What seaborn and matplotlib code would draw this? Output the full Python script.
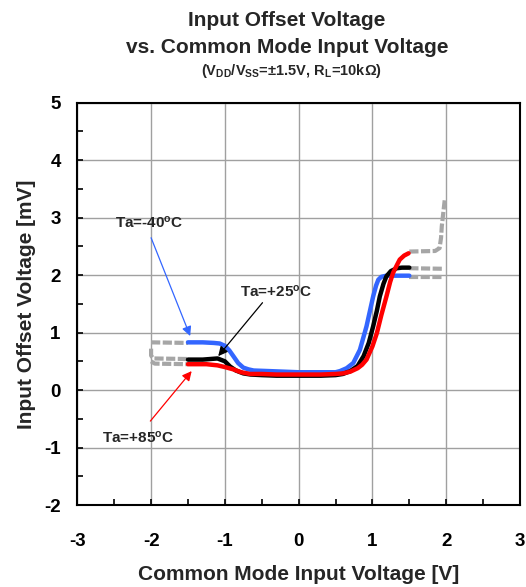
import numpy as np
import pandas as pd
import matplotlib
matplotlib.use("Agg")
import matplotlib.pyplot as plt
import seaborn as sns

# ---------------- data ----------------
temps = ["Ta=-40°C", "Ta=+25°C", "Ta=+85°C"]

x_m40 = [-1.5, -1.3, -1.15, -1.07, -1.0, -0.94, -0.885, -0.82, -0.75, -0.68, -0.61, -0.4, -0.2, 0.0, 0.2, 0.4,
         0.5, 0.56, 0.65, 0.74, 0.83, 0.92, 1.01, 1.05, 1.08, 1.12, 1.19, 1.3, 1.5]
y_m40 = [0.83, 0.83, 0.82, 0.81, 0.77, 0.69, 0.59, 0.47, 0.39, 0.36, 0.34, 0.33, 0.32, 0.31, 0.31, 0.31,
         0.31, 0.33, 0.38, 0.47, 0.70, 1.11, 1.63, 1.82, 1.92, 1.97, 1.99, 1.99, 1.99]

x_p25 = [-1.5, -1.3, -1.1, -1.0, -0.93, -0.85, -0.75, -0.65, -0.5, -0.3, 0.0, 0.3, 0.5, 0.6, 0.7, 0.8,
         0.88, 0.95, 1.01, 1.06, 1.10, 1.15, 1.19, 1.25, 1.33, 1.4, 1.5]
y_p25 = [0.53, 0.53, 0.55, 0.50, 0.41, 0.34, 0.29, 0.27, 0.26, 0.25, 0.25, 0.25, 0.26, 0.28, 0.33, 0.42,
         0.59, 0.82, 1.11, 1.38, 1.63, 1.85, 1.98, 2.07, 2.12, 2.13, 2.13]

x_p85 = [-1.5, -1.25, -1.1, -1.0, -0.885, -0.78, -0.66, -0.5, -0.3, 0.0, 0.3, 0.5, 0.6, 0.7, 0.8, 0.86,
         0.92, 1.0, 1.06, 1.12, 1.19, 1.24, 1.28, 1.33, 1.37, 1.43, 1.49]
y_p85 = [0.45, 0.45, 0.43, 0.40, 0.36, 0.31, 0.28, 0.28, 0.27, 0.27, 0.27, 0.28, 0.29, 0.32, 0.38, 0.44,
         0.53, 0.76, 0.99, 1.30, 1.63, 1.88, 2.04, 2.17, 2.27, 2.34, 2.38]

# grey (dashed) extensions outside the guaranteed range
gx_m40_l = [-2.0, -1.5]
gy_m40_l = [0.83, 0.82]
gx_p25_l = [-2.0, -2.0, -1.97, -1.5]
gy_p25_l = [0.72, 0.60, 0.55, 0.54]
gx_p85_l = [-2.0, -1.95, -1.5]
gy_p85_l = [0.50, 0.46, 0.45]
gx_m40_r = [1.5, 1.97]
gy_m40_r = [1.97, 1.97]
gx_p25_r = [1.5, 1.97]
gy_p25_r = [2.12, 2.11]
gx_p85_r = [1.5, 1.85, 1.91, 1.93, 1.94, 1.96, 1.98]
gy_p85_r = [2.41, 2.42, 2.47, 2.65, 2.85, 3.08, 3.31]

x_ticks = [-3, -2, -1, 0, 1, 2, 3]
y_ticks = [-2, -1, 0, 1, 2, 3, 4, 5]

# ---------------- style ----------------
sns.set_style("white")
plt.rcParams["font.family"] = ["Liberation Sans", "DejaVu Sans"]
plt.rcParams["font.weight"] = "bold"
plt.rcParams["mathtext.fontset"] = "custom"
plt.rcParams["mathtext.rm"] = "Liberation Sans:bold"
plt.rcParams["mathtext.bf"] = "Liberation Sans:bold"
plt.rcParams["mathtext.it"] = "Liberation Sans:bold"

colors = {"Ta=-40°C": "#3366FF", "Ta=+25°C": "#000000", "Ta=+85°C": "#FF0000"}

fig = plt.figure(figsize=(5.26, 5.87), dpi=100)
ax = fig.add_axes([77.3 / 526, 1 - 505 / 587, (520 - 77.3) / 526, (505 - 102.7) / 587])

# grey dashed segments
grey_rows = []
for i, (gx, gy) in enumerate([(gx_m40_l, gy_m40_l), (gx_p25_l, gy_p25_l), (gx_p85_l, gy_p85_l),
                              (gx_m40_r, gy_m40_r), (gx_p25_r, gy_p25_r), (gx_p85_r, gy_p85_r)]):
    for a, b in zip(gx, gy):
        grey_rows.append({"x": a, "y": b, "seg": i})
grey_df = pd.DataFrame(grey_rows)
sns.lineplot(data=grey_df, x="x", y="y", units="seg", estimator=None, sort=False,
             color="#A6A6A6", lw=3, ax=ax, legend=False, dashes=False)
for line in ax.lines:
    line.set_dashes((2.2, 0.6))
    line.set_solid_capstyle("butt")

rows = []
for name, xs, ys in [("Ta=-40°C", x_m40, y_m40), ("Ta=+25°C", x_p25, y_p25), ("Ta=+85°C", x_p85, y_p85)]:
    for a, b in zip(xs, ys):
        rows.append({"x": a, "y": b, "temp": name})
df = pd.DataFrame(rows)
sns.lineplot(data=df, x="x", y="y", hue="temp", hue_order=temps, palette=colors, estimator=None,
             sort=False, lw=3.2, ax=ax, legend=False)

ax.set_xlim(-3, 3)
ax.set_ylim(-2, 5)
ax.set_xticks(x_ticks)
ax.set_yticks(y_ticks)
ax.set_xticks(np.arange(-2.5, 3, 1.0), minor=True)
ax.set_yticks(np.arange(-1.5, 5, 1.0), minor=True)
ax.set_xticklabels([str(t) for t in x_ticks], fontsize=13.5, fontweight="bold")
ax.set_yticklabels([str(t) for t in y_ticks], fontsize=13.5, fontweight="bold")
ax.tick_params(axis="x", which="both", direction="in", length=4, width=1.2, pad=20, bottom=True, colors="black")
ax.tick_params(axis="y", which="both", direction="in", length=4, width=1.2, pad=12, left=True, colors="black")
ax.grid(True, which="major", color="#A0A0A0", lw=1.0)
for s in ax.spines.values():
    s.set_visible(True)
    s.set_color("black")
    s.set_linewidth(1.5)

ax.set_xlabel("Common Mode Input Voltage [V]", fontsize=15, fontweight="bold", labelpad=11)
ax.set_ylabel("Input Offset Voltage [mV]", fontsize=15, fontweight="bold", labelpad=6)

# annotations
ann_fs = 11
labels = [(r"Ta=-40$^{\mathbf{o}}$C", (-2.03, 2.91), (-2.0, 2.65), (-1.47, 0.94), "#3366FF"),
          (r"Ta=+25$^{\mathbf{o}}$C", (-0.31, 1.71), (-0.49, 1.52), (-1.09, 0.59), "black"),
          (r"Ta=+85$^{\mathbf{o}}$C", (-2.17, -0.83), (-2.01, -0.54), (-1.45, 0.33), "red")]
for txt, tpos, start, tip, col in labels:
    ax.text(tpos[0], tpos[1], txt, ha="center", va="center", fontsize=ann_fs, fontweight="bold")
    ax.annotate("", xy=tip, xytext=start,
                arrowprops=dict(arrowstyle="-|>", color=col, lw=0.9, mutation_scale=14, shrinkA=0, shrinkB=0))

# titles
fig.text(287 / 526, 1 - 21 / 587, "Input Offset Voltage", ha="center", va="center", fontsize=15, fontweight="bold")
fig.text(287 / 526, 1 - 47.5 / 587, "vs. Common Mode Input Voltage", ha="center", va="center", fontsize=15, fontweight="bold")
fig.text(291 / 526, 1 - 71 / 587, r"(V$_{\mathbf{DD}}$/V$_{\mathbf{SS}}$=±1.5V, R$_{\mathbf{L}}$=10kΩ)",
         ha="center", va="center", fontsize=10.5, fontweight="bold")

fig.savefig("out.png", dpi=100)
